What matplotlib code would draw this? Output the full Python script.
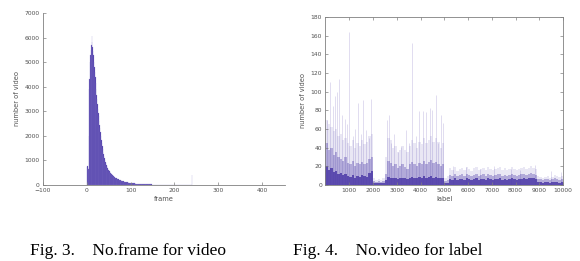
import matplotlib
matplotlib.use("Agg")
import matplotlib.pyplot as plt

# ---------------- Fig. 3 data: number of videos per frame count ----------------
frame_counts = [
    740, 760, 700, 650, 2000, 3900, 4300, 5000, 5300, 5500,
    5700, 6050, 5800, 5600, 5450, 5300, 5000, 4800, 4600, 4400,
    4150, 3900, 3650, 3500, 3300, 3100, 2950, 2800, 2600, 2450,
    2300, 2150, 2000, 1850, 1700, 1580, 1460, 1350, 1250, 1160,
    1080, 1000, 940, 880, 830, 780, 740, 700, 660, 630,
    600, 570, 540, 515, 490, 470, 450, 430, 410, 390,
    375, 360, 345, 330, 318, 305, 293, 282, 271, 260,
    250, 240, 231, 222, 214, 206, 198, 191, 184, 177,
    170, 164, 158, 152, 146, 141, 136, 131, 126, 122,
    118, 114, 110, 106, 102, 99, 96, 93, 90, 87,
    84, 81, 78, 75, 73, 71, 69, 67, 65, 63,
    61, 59, 57, 55, 53, 52, 50, 49, 47, 46,
    45, 43, 42, 41, 40, 39, 38, 37, 36, 35,
    34, 33, 32, 31, 30, 29, 28, 27, 27, 26,
    25, 25, 24, 23, 23, 22, 21, 21, 20, 20,
    19, 19, 18, 18, 17, 17, 16, 16, 15, 15,
    15, 14, 14, 13, 13, 13, 12, 12, 12, 11,
    11, 11, 10, 10, 10, 10, 9, 9, 9, 9,
    8, 8, 8, 8, 8, 7, 7, 7, 7, 7,
    6, 6, 6, 6, 6, 6, 5, 5, 5, 5,
    5, 5, 5, 5, 4, 4, 4, 4, 4, 4,
    4, 4, 3, 3, 3, 3, 3, 3, 3, 3,
    3, 3, 3, 3, 2, 2, 2, 2, 2, 2,
    2, 2, 2, 2, 2, 2, 2, 2, 2, 2,
    420,
]
frames = list(range(len(frame_counts)))
left_xticks = [-100, 0, 100, 200, 300, 400]
left_yticks = [0, 1000, 2000, 3000, 4000, 5000, 6000, 7000]

# ---------------- Fig. 4 data: number of videos per label (blocks of 100 labels) ----------------
block_width = 100
block_starts = list(range(0, 10000, block_width))
level_dark = (
    [20, 16, 18, 14, 15, 12, 13, 11, 12, 10, 9, 11, 8, 10, 9, 11, 10, 9, 13, 15]
    + [2, 2, 2, 2, 2, 5]
    + [9, 8, 7, 8, 6, 7, 8, 7, 6, 8, 9, 8, 7, 9, 8, 10, 8, 9, 10, 8, 9, 8, 7, 8]
    + [2, 2]
    + [6, 5, 7, 5, 6, 6, 5, 7, 6, 5, 6, 7, 5, 6, 6, 5, 7, 6, 5, 6, 6, 7, 5, 6, 5,
       6, 7, 6, 5, 6, 6, 7, 6, 7, 8, 7, 6]
    + [3, 3, 2, 3, 3, 2, 3, 3, 3, 2, 3]
)
level_mid = (
    [45, 38, 40, 32, 35, 30, 28, 26, 30, 24, 22, 26, 20, 24, 22, 25, 22, 24, 28, 30]
    + [4, 3, 4, 3, 4, 12]
    + [26, 24, 20, 22, 18, 20, 22, 19, 17, 22, 25, 23, 20, 24, 22, 26, 23, 25, 27, 24,
       25, 23, 20, 22]
    + [4, 5]
    + [11, 10, 12, 10, 11, 12, 10, 12, 11, 10, 11, 12, 10, 11, 12, 10, 12, 11, 10, 11,
       12, 12, 10, 11, 10, 11, 12, 11, 10, 11, 12, 12, 11, 12, 13, 12, 11]
    + [6, 6, 5, 6, 6, 5, 6, 7, 6, 5, 6]
)
level_light = (
    [70, 65, 62, 58, 60, 52, 55, 48, 50, 45, 42, 48, 40, 45, 42, 48, 44, 46, 52, 55]
    + [7, 5, 6, 5, 7, 30]
    + [50, 48, 40, 42, 35, 38, 42, 38, 35, 42, 48, 45, 40, 46, 44, 50, 45, 48, 52, 46,
       50, 46, 40, 45]
    + [8, 10]
    + [18, 16, 19, 15, 17, 18, 16, 19, 17, 15, 18, 19, 16, 17, 18, 16, 19, 17, 16, 17,
       18, 19, 16, 18, 16, 17, 19, 17, 16, 17, 18, 19, 17, 18, 20, 18, 17]
    + [10, 9, 8, 9, 10, 8, 9, 11, 10, 9, 10]
)
spike_labels = [80, 190, 300, 400, 480, 580, 700, 820, 900, 1000, 1150, 1250,
                1380, 1480, 1590, 1700, 1830, 1920, 2580, 2660, 2750, 2900,
                3050, 3200, 3390, 3500, 3630, 3800, 3950, 4120, 4220, 4400,
                4500, 4650, 4750, 4850, 4930, 5350, 5900, 6500, 7100, 7800,
                8200, 8800, 9500, 9900]
spike_values = [70, 110, 85, 95, 100, 114, 75, 71, 65, 164, 52, 60,
                88, 55, 91, 59, 50, 92, 70, 75, 45, 55,
                35, 41, 59, 45, 152, 52, 79, 79, 78, 82,
                80, 96, 45, 75, 66, 20, 19, 17, 20, 17,
                16, 21, 15, 14]
right_xticks = [1000, 2000, 3000, 4000, 5000, 6000, 7000, 8000, 9000, 10000]
right_yticks = list(range(0, 181, 20))

purple = "#4d3aa8"
axis_gray = "#808080"
text_gray = "#505050"

fig = plt.figure(figsize=(5.8, 2.61), dpi=100)
fig.patch.set_facecolor("white")

# ----- left panel -----
ax1 = fig.add_axes([0.0741, 0.2912, 0.417, 0.659])
ax1.bar(frames, frame_counts, width=1.0, align="edge", color=purple,
        edgecolor="#8a80cc", linewidth=0.15)
ax1.set_xlim(-100, 452)
ax1.set_ylim(0, 7000)
ax1.set_xticks(left_xticks)
ax1.set_yticks(left_yticks)
ax1.spines["top"].set_visible(False)
ax1.spines["right"].set_visible(False)
ax1.set_xlabel("frame", fontsize=4.8, color=text_gray, labelpad=2)
ax1.set_ylabel("number of video", fontsize=4.8, color=text_gray, labelpad=3)

# ----- right panel -----
ax2 = fig.add_axes([0.561, 0.2912, 0.410, 0.644])
ax2.bar(block_starts, level_light, width=block_width, align="edge",
        color=purple, alpha=0.12, linewidth=0)
ax2.bar(block_starts, level_mid, width=block_width, align="edge",
        color=purple, alpha=0.35, linewidth=0)
ax2.bar(block_starts, level_dark, width=block_width, align="edge",
        color=purple, alpha=0.85, linewidth=0)
ax2.vlines(spike_labels, 0, spike_values, color=purple, alpha=0.2, linewidth=0.6)
ax2.set_xlim(0, 10000)
ax2.set_ylim(0, 180)
ax2.set_xticks(right_xticks)
ax2.set_yticks(right_yticks)
ax2.set_xlabel("label", fontsize=4.8, color=text_gray, labelpad=2)
ax2.set_ylabel("number of video", fontsize=4.8, color=text_gray, labelpad=3)
ax2.tick_params(top=True, right=True)

for ax in (ax1, ax2):
    for s in ax.spines.values():
        s.set_color(axis_gray)
        s.set_linewidth(0.6)
    ax.tick_params(direction="in", length=2.5, width=0.5, colors=axis_gray,
                   labelsize=4.3, labelcolor=text_gray, pad=2.5)
    ax.set_facecolor("white")

# ----- captions -----
fig.text(0.0517, 0.022, "Fig. 3.    No.frame for video", fontsize=12.5,
         family="Liberation Serif", color="black", ha="left", va="baseline")
fig.text(0.505, 0.022, "Fig. 4.    No.video for label", fontsize=12.5,
         family="Liberation Serif", color="black", ha="left", va="baseline")

fig.savefig("out.png", dpi=100)
